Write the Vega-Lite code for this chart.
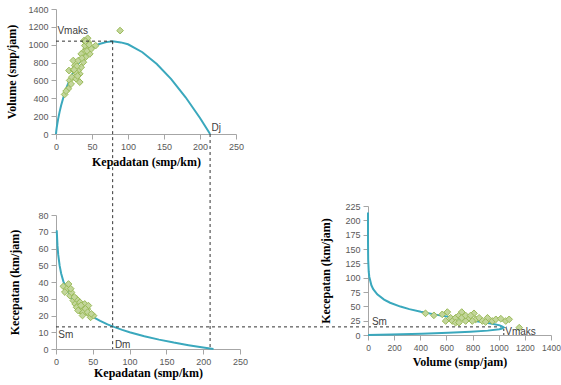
{
  "$schema": "https://vega.github.io/schema/vega-lite/v6.json",
  "background": "white",
  "padding": {"left": 5, "top": 5, "right": 0, "bottom": 5},
  "config": {
    "view": {"stroke": null},
    "axis": {"grid": false, "domainColor": "#a6a6a6", "tickColor": "#a6a6a6", "tickSize": 5, "labelPadding": 3, "format": "d", "labelOverlap": false, "labelFlush": false,
      "labelFont": "Liberation Sans", "labelFontSize": 9, "labelColor": "#595959",
      "titleFont": "Liberation Serif", "titleFontSize": 12, "titleFontWeight": "bold", "titleColor": "#000000"}
  },
  "datasets": {
    "curve": [
      {"D": 0.00002, "S": 213.7, "V": 0.004},
      {"D": 0.0001, "S": 192.4, "V": 0.02},
      {"D": 0.001, "S": 162.0, "V": 0.16},
      {"D": 0.01, "S": 131.6, "V": 1.3},
      {"D": 0.05, "S": 110.4, "V": 5.5},
      {"D": 0.1, "S": 101.2, "V": 10.1},
      {"D": 0.3, "S": 86.7, "V": 26},
      {"D": 0.5, "S": 80.0, "V": 40},
      {"D": 1, "S": 70.8, "V": 70.8},
      {"D": 2, "S": 61.7, "V": 123},
      {"D": 3, "S": 56.3, "V": 169},
      {"D": 5, "S": 49.6, "V": 248},
      {"D": 7, "S": 45.1, "V": 316},
      {"D": 10, "S": 40.4, "V": 404},
      {"D": 15, "S": 35.1, "V": 527},
      {"D": 20, "S": 31.3, "V": 626},
      {"D": 25, "S": 28.3, "V": 708},
      {"D": 30, "S": 25.9, "V": 777},
      {"D": 40, "S": 22.1, "V": 884},
      {"D": 50, "S": 19.2, "V": 960},
      {"D": 60, "S": 16.8, "V": 1008},
      {"D": 70, "S": 14.7, "V": 1029},
      {"D": 78.7, "S": 13.2, "V": 1039},
      {"D": 90, "S": 11.4, "V": 1026},
      {"D": 100, "S": 10.0, "V": 1005},
      {"D": 120, "S": 7.63, "V": 916},
      {"D": 140, "S": 5.6, "V": 784},
      {"D": 160, "S": 3.84, "V": 614},
      {"D": 180, "S": 2.29, "V": 411},
      {"D": 200, "S": 0.89, "V": 179},
      {"D": 214, "S": 0, "V": 0}
    ],
    "ptsTop": [
      {"D": 12, "V": 443}, {"D": 17, "V": 506}, {"D": 19, "V": 600}, {"D": 22, "V": 637}, {"D": 18, "V": 711},
      {"D": 24, "V": 718}, {"D": 26, "V": 767}, {"D": 24, "V": 823}, {"D": 31, "V": 823}, {"D": 28, "V": 618},
      {"D": 33, "V": 674}, {"D": 31, "V": 711}, {"D": 35, "V": 748}, {"D": 38, "V": 804}, {"D": 41, "V": 860},
      {"D": 38, "V": 916}, {"D": 42, "V": 953}, {"D": 40, "V": 990}, {"D": 45, "V": 1028}, {"D": 44, "V": 1072},
      {"D": 47, "V": 897}, {"D": 49, "V": 953}, {"D": 55, "V": 990}, {"D": 35, "V": 897}, {"D": 39, "V": 1046},
      {"D": 33, "V": 581}, {"D": 27, "V": 692}, {"D": 89, "V": 1158}, {"D": 14, "V": 480}, {"D": 21, "V": 560},
      {"D": 29, "V": 760}, {"D": 36, "V": 850}, {"D": 43, "V": 930}, {"D": 46, "V": 1000}, {"D": 41, "V": 1040},
      {"D": 30, "V": 650}, {"D": 25, "V": 720}
    ],
    "ptsBL": [
      {"D": 10, "S": 37.4}, {"D": 17, "S": 38.8}, {"D": 14.5, "S": 35.8}, {"D": 19, "S": 31.8}, {"D": 21, "S": 33.8},
      {"D": 23.5, "S": 28.9}, {"D": 26, "S": 26.9}, {"D": 28, "S": 29.9}, {"D": 30, "S": 25.9}, {"D": 32.6, "S": 27.9},
      {"D": 35, "S": 23.9}, {"D": 37, "S": 24.9}, {"D": 39, "S": 26.9}, {"D": 41, "S": 21.9}, {"D": 42.6, "S": 23.9},
      {"D": 45, "S": 20.9}, {"D": 47, "S": 18.9}, {"D": 32.6, "S": 22.9}, {"D": 28, "S": 24.9}, {"D": 37, "S": 21.9},
      {"D": 44, "S": 25.9}, {"D": 51, "S": 19.9}, {"D": 12, "S": 34}, {"D": 20, "S": 36}, {"D": 25, "S": 31},
      {"D": 34, "S": 26}, {"D": 40, "S": 24}, {"D": 43, "S": 22}, {"D": 48, "S": 21}, {"D": 30, "S": 23}, {"D": 36, "S": 20}
    ],
    "ptsBR": [
      {"V": 440, "S": 37.8}, {"V": 504, "S": 34.3}, {"V": 568, "S": 36}, {"V": 607, "S": 40}, {"V": 632, "S": 30},
      {"V": 645, "S": 24.4}, {"V": 670, "S": 30}, {"V": 696, "S": 34}, {"V": 717, "S": 40}, {"V": 717, "S": 30},
      {"V": 747, "S": 24.4}, {"V": 773, "S": 30}, {"V": 811, "S": 37.8}, {"V": 824, "S": 27.3}, {"V": 850, "S": 30},
      {"V": 875, "S": 24.4}, {"V": 914, "S": 30}, {"V": 952, "S": 24.4}, {"V": 978, "S": 27.3}, {"V": 1016, "S": 28.5},
      {"V": 1054, "S": 24.4}, {"V": 1080, "S": 27.3}, {"V": 1157, "S": 12.8}, {"V": 670, "S": 21.5}, {"V": 747, "S": 34},
      {"V": 798, "S": 24.4}, {"V": 900, "S": 22.7}, {"V": 594, "S": 24.4}, {"V": 696, "S": 21.5}, {"V": 785, "S": 34}
    ]
  },
  "bounds": "flush",
  "spacing": 312,
  "hconcat": [
    {
      "bounds": "flush",
      "spacing": 81,
      "vconcat": [
        {
          "width": 180, "height": 125,
          "encoding": {
            "x": {"type": "quantitative", "scale": {"domain": [0, 250], "nice": false},
              "axis": {"values": [0, 50, 100, 150, 200, 250], "title": "Kepadatan (smp/km)", "titlePadding": 5}},
            "y": {"type": "quantitative", "scale": {"domain": [0, 1400], "nice": false},
              "axis": {"values": [0, 200, 400, 600, 800, 1000, 1200, 1400], "title": "Volume (smp/jam)", "titlePadding": 9}}
          },
          "layer": [
            {"data": {"name": "curve"}, "mark": {"type": "line", "color": "#3aa8bd", "strokeWidth": 2},
              "encoding": {"x": {"field": "D"}, "y": {"field": "V"}, "order": {"field": "D"}}},
            {"data": {"name": "ptsTop"}, "mark": {"type": "point", "shape": "diamond", "filled": true, "fill": "#c3d69b", "stroke": "#9bbb59", "strokeWidth": 1, "size": 45, "opacity": 1},
              "encoding": {"x": {"field": "D"}, "y": {"field": "V"}}},
            {"data": {"values": [{}]}, "mark": {"type": "rule", "strokeDash": [3, 3], "color": "#333333", "strokeWidth": 1},
              "encoding": {"x": {"datum": 0}, "x2": {"datum": 78.7}, "y": {"datum": 1040}}},
            {"data": {"values": [{}]}, "mark": {"type": "rule", "strokeDash": [3, 3], "color": "#333333", "strokeWidth": 1},
              "encoding": {"x": {"datum": 78.7}, "y": {"datum": 1040}, "y2": {"datum": -2408}}},
            {"data": {"values": [{}]}, "mark": {"type": "rule", "strokeDash": [3, 3], "color": "#333333", "strokeWidth": 1},
              "encoding": {"x": {"datum": 214}, "y": {"datum": 0}, "y2": {"datum": -2408}}},
            {"data": {"values": [{"t": "Vmaks", "x": 2, "y": 1100}, {"t": "Dj", "x": 216, "y": 10}]},
              "mark": {"type": "text", "align": "left", "baseline": "bottom", "font": "Liberation Sans", "fontSize": 10, "color": "#404040"},
              "encoding": {"x": {"field": "x"}, "y": {"field": "y"}, "text": {"field": "t"}}}
          ]
        },
        {
          "width": 184, "height": 134,
          "encoding": {
            "x": {"type": "quantitative", "scale": {"domain": [0, 250], "nice": false},
              "axis": {"values": [0, 50, 100, 150, 200, 250], "title": "Kepadatan (smp/km)", "titlePadding": 1}},
            "y": {"type": "quantitative", "scale": {"domain": [0, 80], "nice": false},
              "axis": {"values": [0, 10, 20, 30, 40, 50, 60, 70, 80], "title": "Kecepatan (km/jam)", "titlePadding": 16}}
          },
          "layer": [
            {"data": {"name": "curve"}, "transform": [{"filter": "datum.S <= 71"}],
              "mark": {"type": "line", "color": "#3aa8bd", "strokeWidth": 2},
              "encoding": {"x": {"field": "D"}, "y": {"field": "S"}, "order": {"field": "D"}}},
            {"data": {"name": "ptsBL"}, "mark": {"type": "point", "shape": "diamond", "filled": true, "fill": "#c3d69b", "stroke": "#9bbb59", "strokeWidth": 1, "size": 45, "opacity": 1},
              "encoding": {"x": {"field": "D"}, "y": {"field": "S"}}},
            {"data": {"values": [{}]}, "mark": {"type": "rule", "strokeDash": [3, 3], "color": "#333333", "strokeWidth": 1},
              "encoding": {"x": {"datum": 0}, "x2": {"datum": 612}, "y": {"datum": 13.2}}},
            {"data": {"values": [{"t": "Sm", "x": 3, "y": 8.5}, {"t": "Dm", "x": 80, "y": 2.6}]},
              "mark": {"type": "text", "align": "left", "baseline": "middle", "font": "Liberation Sans", "fontSize": 10, "color": "#404040"},
              "encoding": {"x": {"field": "x"}, "y": {"field": "y"}, "text": {"field": "t"}}}
          ]
        }
      ]
    },
    {
      "bounds": "flush",
      "spacing": 196,
      "vconcat": [
        {"width": 10, "height": 1, "data": {"values": []}, "mark": "point", "encoding": {}},
        {
          "width": 183, "height": 129,
          "encoding": {
            "x": {"type": "quantitative", "scale": {"domain": [0, 1400], "nice": false},
              "axis": {"values": [0, 200, 400, 600, 800, 1000, 1200, 1400], "title": "Volume (smp/jam)", "titlePadding": 5, "labelFontSize": 8.5}},
            "y": {"type": "quantitative", "scale": {"domain": [0, 225], "nice": false},
              "axis": {"values": [0, 25, 50, 75, 100, 125, 150, 175, 200, 225], "title": "Kecepatan (km/jam)", "titlePadding": 12}}
          },
          "layer": [
            {"data": {"name": "curve"},
              "mark": {"type": "line", "color": "#3aa8bd", "strokeWidth": 2},
              "encoding": {"x": {"field": "V"}, "y": {"field": "S"}, "order": {"field": "D"}}},
            {"data": {"name": "ptsBR"}, "mark": {"type": "point", "shape": "diamond", "filled": true, "fill": "#c3d69b", "stroke": "#9bbb59", "strokeWidth": 1, "size": 45, "opacity": 1},
              "encoding": {"x": {"field": "V"}, "y": {"field": "S"}}},
            {"data": {"values": [{}]}, "mark": {"type": "rule", "strokeDash": [2, 2], "color": "#333333", "strokeWidth": 1},
              "encoding": {"x": {"datum": 1039}, "y": {"datum": 0}, "y2": {"datum": 13.2}}},
            {"data": {"values": [{"t": "Sm", "x": 30, "y": 22.7}, {"t": "Vmaks", "x": 1050, "y": 5}]},
              "mark": {"type": "text", "align": "left", "baseline": "middle", "font": "Liberation Sans", "fontSize": 10, "color": "#404040"},
              "encoding": {"x": {"field": "x"}, "y": {"field": "y"}, "text": {"field": "t"}}}
          ]
        }
      ]
    }
  ]
}
